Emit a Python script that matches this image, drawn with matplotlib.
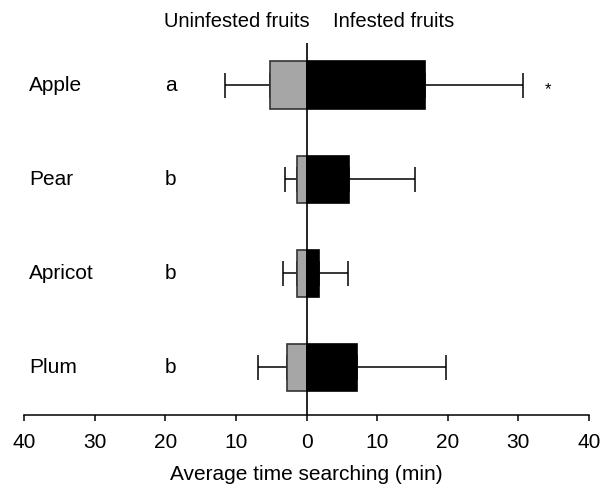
import matplotlib
matplotlib.use("Agg")
import matplotlib.pyplot as plt
import numpy as np

plt.rcParams['font.family'] = ['Liberation Sans', 'DejaVu Sans']

fruits = ['Apple', 'Pear', 'Apricot', 'Plum']
letters = ['a', 'b', 'b', 'b']
uninfested = [5.2, 1.4, 1.4, 2.8]
uninfested_err = [6.3, 1.6, 1.9, 4.0]
infested = [16.8, 6.0, 1.7, 7.2]
infested_err = [13.9, 9.4, 4.2, 12.5]
signif = ['*', '', '', '']

ypos = np.arange(len(fruits))[::-1]

fig = plt.figure(figsize=(6.03, 4.84), dpi=100)
ax = fig.add_axes([0.0398, 0.1426, 0.937, 0.7686])

neg = -np.array(uninfested)
ax.errorbar(neg, ypos, xerr=[uninfested_err, np.zeros(4)], fmt='none',
            ecolor='black', elinewidth=1.1, capsize=9, capthick=1.1, zorder=1)
ax.errorbar(infested, ypos, xerr=[np.zeros(4), infested_err], fmt='none',
            ecolor='black', elinewidth=1.1, capsize=9, capthick=1.1, zorder=1)
ax.barh(ypos, neg, height=0.5, color='#a6a6a6', edgecolor='#333333', linewidth=1.2, zorder=2)
ax.barh(ypos, infested, height=0.5, color='black', edgecolor='black', linewidth=1.2, zorder=2)
ax.axvline(0, color='black', linewidth=1.2, zorder=3)

for y, f, l, s in zip(ypos, fruits, letters, signif):
    ax.text(-39.3, y, f, ha='left', va='center', fontsize=15)
    ax.text(-19.2, y, l, ha='center', va='center', fontsize=15)
    if s:
        ax.text(34.2, y - 0.05, s, ha='center', va='center', fontsize=12)

ax.text(0.4, 1.058, 'Uninfested fruits', ha='right', va='center', fontsize=14.5,
        transform=ax.get_xaxis_transform())
ax.text(3.7, 1.058, 'Infested fruits', ha='left', va='center', fontsize=14.5,
        transform=ax.get_xaxis_transform())

ax.set_xlim(-40, 40)
ax.set_ylim(-0.51, 3.447)
ticks = np.arange(-40, 41, 10)
ax.set_xticks(ticks)
ax.set_xticklabels([str(abs(t)) for t in ticks], fontsize=15)
ax.set_yticks([])
ax.tick_params(axis='x', direction='out', length=4, width=1.1, pad=9)
for side in ['top', 'right', 'left']:
    ax.spines[side].set_visible(False)
ax.spines['bottom'].set_linewidth(1.1)
ax.set_xlabel('Average time searching (min)', fontsize=15, labelpad=9)

fig.savefig('out.png', dpi=100)
